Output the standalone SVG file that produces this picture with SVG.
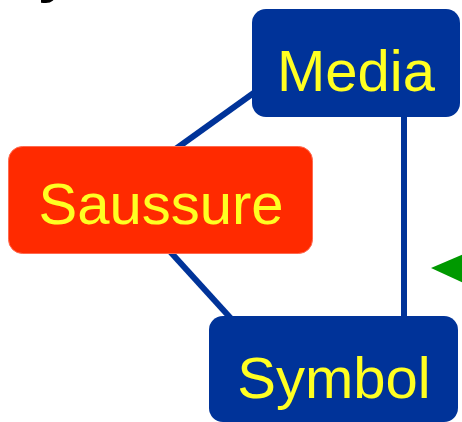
<svg xmlns="http://www.w3.org/2000/svg" width="462" height="422" viewBox="0 0 462 422">
<style>
.lbl{font-family:"Liberation Sans",Arial,sans-serif;font-size:58px;fill:#FFFF22;text-anchor:middle}
.blue{fill:#003399}
.red{fill:#FF2A00;stroke:#FF6A50;stroke-width:1}
.conn{stroke:#003399;stroke-width:6;fill:none}
</style>
<rect width="462" height="422" fill="#FFFFFF"/>
<text x="38" y="-9" font-family="Liberation Sans,Arial,sans-serif" font-weight="bold" font-size="58" fill="#000000">y</text>
<g id="connectors">
<line class="conn" x1="170" y1="153" x2="262" y2="87"/>
<line class="conn" x1="165" y1="246" x2="236" y2="324"/>
<line class="conn" x1="404" y1="110" x2="404" y2="322"/>
</g>
<g id="media">
<rect class="blue" x="252" y="9" width="208" height="108" rx="14"/>
<text class="lbl" x="356" y="91">Media</text>
</g>
<g id="saussure">
<rect class="red" x="8.5" y="146.5" width="304" height="107" rx="14"/>
<text class="lbl" x="161" y="224">Saussure</text>
</g>
<g id="symbol">
<rect class="blue" x="209" y="316" width="249" height="106" rx="14"/>
<text class="lbl" x="334" y="398">Symbol</text>
</g>
<polygon id="pointer" points="431,268 466,253 466,284" fill="#009900"/>
</svg>
